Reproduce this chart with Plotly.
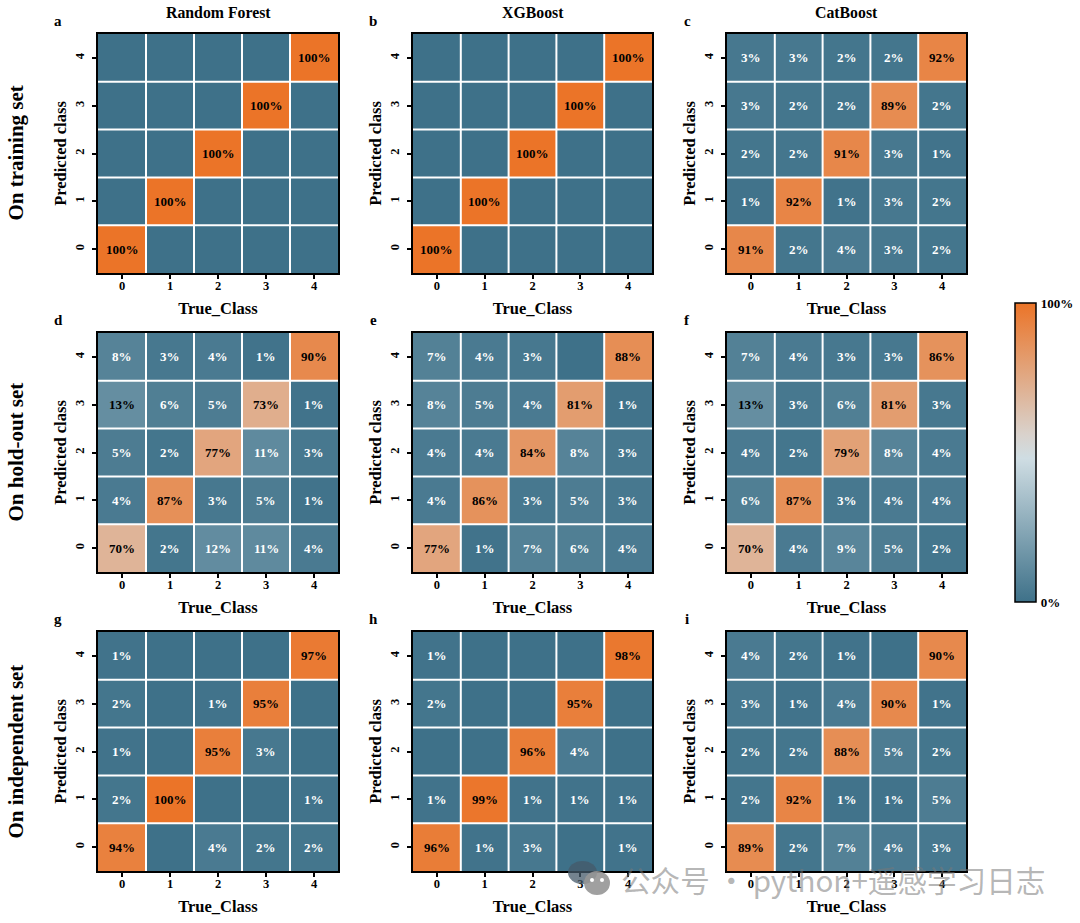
import plotly.graph_objects as go

# ── Data (rows run from predicted class 0 up to 4, columns are true class 0..4) ──
CLASSES = [0, 1, 2, 3, 4]
CLASS_LABELS = ["0", "1", "2", "3", "4"]

rf_train = [[100, 0, 0, 0, 0], [0, 100, 0, 0, 0], [0, 0, 100, 0, 0], [0, 0, 0, 100, 0], [0, 0, 0, 0, 100]]
xgb_train = [[100, 0, 0, 0, 0], [0, 100, 0, 0, 0], [0, 0, 100, 0, 0], [0, 0, 0, 100, 0], [0, 0, 0, 0, 100]]
cat_train = [[91, 2, 4, 3, 2], [1, 92, 1, 3, 2], [2, 2, 91, 3, 1], [3, 2, 2, 89, 2], [3, 3, 2, 2, 92]]

rf_holdout = [[70, 2, 12, 11, 4], [4, 87, 3, 5, 1], [5, 2, 77, 11, 3], [13, 6, 5, 73, 1], [8, 3, 4, 1, 90]]
xgb_holdout = [[77, 1, 7, 6, 4], [4, 86, 3, 5, 3], [4, 4, 84, 8, 3], [8, 5, 4, 81, 1], [7, 4, 3, 0, 88]]
cat_holdout = [[70, 4, 9, 5, 2], [6, 87, 3, 4, 4], [4, 2, 79, 8, 4], [13, 3, 6, 81, 3], [7, 4, 3, 3, 86]]

rf_indep = [[94, 0, 4, 2, 2], [2, 100, 0, 0, 1], [1, 0, 95, 3, 0], [2, 0, 1, 95, 0], [1, 0, 0, 0, 97]]
xgb_indep = [[96, 1, 3, 0, 1], [1, 99, 1, 1, 1], [0, 0, 96, 4, 0], [2, 0, 0, 95, 0], [1, 0, 0, 0, 98]]
cat_indep = [[89, 2, 7, 4, 3], [2, 92, 1, 1, 5], [2, 2, 88, 5, 2], [3, 1, 4, 90, 1], [4, 2, 1, 0, 90]]

PANELS = [rf_train, xgb_train, cat_train,
          rf_holdout, xgb_holdout, cat_holdout,
          rf_indep, xgb_indep, cat_indep]
PANEL_LETTERS = ["a", "b", "c", "d", "e", "f", "g", "h", "i"]
MODEL_TITLES = ["Random Forest", "XGBoost", "CatBoost"]
ROW_TITLES = ["On training set", "On hold-out set", "On independent set"]

# ── Style ───────────────────────────────────────────────────────────────────
SERIF = "Liberation Serif"
CJK = "Noto Sans CJK SC"
COLORSCALE = [[0.0, "#3E7189"], [0.48, "#CFDDE3"], [0.56, "#D9D2CC"], [1.0, "#EB7428"]]

W, H = 1080, 923
COL_X = [(98, 338), (413, 652), (727, 966)]
ROW_Y = [(34, 273), (333, 572), (632, 871)]


def px(x):
    return x / W


def py(y):
    return 1 - y / H


def label(text, x, y, size, color="black", angle=0, family=SERIF):
    return dict(text=text, x=px(x), y=py(y), xref="paper", yref="paper", showarrow=False,
                xanchor="center", yanchor="middle", textangle=angle,
                font=dict(family=family, size=size, color=color))


def bubble(x0, x1, y0, y1, color):
    return dict(type="circle", xref="paper", yref="paper", x0=px(x0), x1=px(x1),
                y0=py(y1), y1=py(y0), fillcolor=color, line_width=0)


fig = go.Figure()
annotations = []
shapes = []
axes = {}

for i, values in enumerate(PANELS):
    r, c = divmod(i, 3)
    n = "" if i == 0 else str(i + 1)
    fig.add_trace(go.Heatmap(z=values, x=CLASSES, y=CLASSES, coloraxis="coloraxis",
                             xaxis=f"x{n}", yaxis=f"y{n}"))

    x0, x1 = COL_X[c]
    y0, y1 = ROW_Y[r]
    axes[f"xaxis{n}"] = dict(
        domain=[px(x0), px(x1)], anchor=f"y{n}", range=[-0.5, 4.5],
        tickvals=CLASSES, ticktext=[f"<b>{t}</b>" for t in CLASS_LABELS],
        ticks="outside", ticklen=4, tickwidth=1.5, tickcolor="black",
        ticklabelstandoff=-4,
        showline=True, mirror=True, linecolor="black", linewidth=1.5,
        showgrid=False, zeroline=False,
        tickfont=dict(family=SERIF, size=12.5, color="black"),
        title=dict(text="<b>True_Class</b>", standoff=11,
                   font=dict(family=SERIF, size=16.5, color="black")),
    )
    axes[f"yaxis{n}"] = dict(
        domain=[py(y1), py(y0)], anchor=f"x{n}", range=[-0.5, 4.5],
        tickvals=CLASSES, ticktext=[f"<b>{t}</b>" for t in CLASS_LABELS], tickangle=-90,
        ticks="outside", ticklen=4, tickwidth=1.5, tickcolor="black",
        ticklabelstandoff=3,
        showline=True, mirror=True, linecolor="black", linewidth=1.5,
        showgrid=False, zeroline=False,
        tickfont=dict(family=SERIF, size=12.5, color="black"),
        title=dict(text="<b>Predicted class</b>", standoff=2,
                   font=dict(family=SERIF, size=16.5, color="black")),
    )

    # white separators between cells
    for edge in CLASSES[:-1]:
        shapes.append(dict(type="line", xref=f"x{n}", yref=f"y{n}", x0=edge + 0.5, x1=edge + 0.5,
                           y0=-0.5, y1=4.5, line=dict(color="white", width=2)))
        shapes.append(dict(type="line", xref=f"x{n}", yref=f"y{n}", x0=-0.5, x1=4.5,
                           y0=edge + 0.5, y1=edge + 0.5, line=dict(color="white", width=2)))

    # cell labels, zero cells stay blank
    for yi, row in enumerate(values):
        for xi, v in enumerate(row):
            if v == 0:
                continue
            annotations.append(dict(
                text=f"<b>{v}%</b>", x=CLASSES[xi], y=CLASSES[yi],
                xref=f"x{n}", yref=f"y{n}", showarrow=False,
                font=dict(family=SERIF, size=13, color="black" if v > 12 else "white"),
            ))

    annotations.append(label(f"<b>{PANEL_LETTERS[i]}</b>", x0 - 40, y0 - 13, 15))

for c, title in enumerate(MODEL_TITLES):
    annotations.append(label(f"<b>{title}</b>", sum(COL_X[c]) / 2, 13, 15.8))
for r, title in enumerate(ROW_TITLES):
    annotations.append(label(f"<b>{title}</b>", 15, sum(ROW_Y[r]) / 2, 21, angle=-90))

# watermark
annotations.append(label("公众号 · python+遥感学习日志", 833, 879, 29.6,
                         color="rgba(120,120,120,0.55)", family=CJK))
shapes += [
    bubble(568, 597, 861, 884, "rgba(70,90,105,0.75)"),
    bubble(584, 610, 871, 895, "rgba(150,150,150,0.9)"),
    bubble(590, 594, 878, 882, "white"),
    bubble(600, 604, 878, 882, "white"),
]

fig.update_layout(
    width=W, height=H,
    margin=dict(l=0, r=0, t=0, b=0),
    paper_bgcolor="white",
    plot_bgcolor="white",
    showlegend=False,
    annotations=annotations,
    shapes=shapes,
    coloraxis=dict(
        colorscale=COLORSCALE, cmin=0, cmax=100,
        colorbar=dict(
            x=px(1015), xanchor="left", y=py(303), yanchor="top",
            len=299 / H, lenmode="fraction", thickness=21, thicknessmode="pixels",
            outlinecolor="black", outlinewidth=1.5,
            tickvals=[0, 100], ticktext=["<b>0%</b>", "<b>100%</b>"],
            ticks="outside", ticklen=2, tickcolor="rgba(0,0,0,0)",
            xpad=0, ypad=0,
            tickfont=dict(family=SERIF, size=13, color="black"),
        ),
    ),
    **axes,
)

# drop the default body margin so the figure fills the window, no modebar in the shot
fig.write_html("out.html", config={"displayModeBar": False},
               post_script="document.body.style.margin = '0';")
